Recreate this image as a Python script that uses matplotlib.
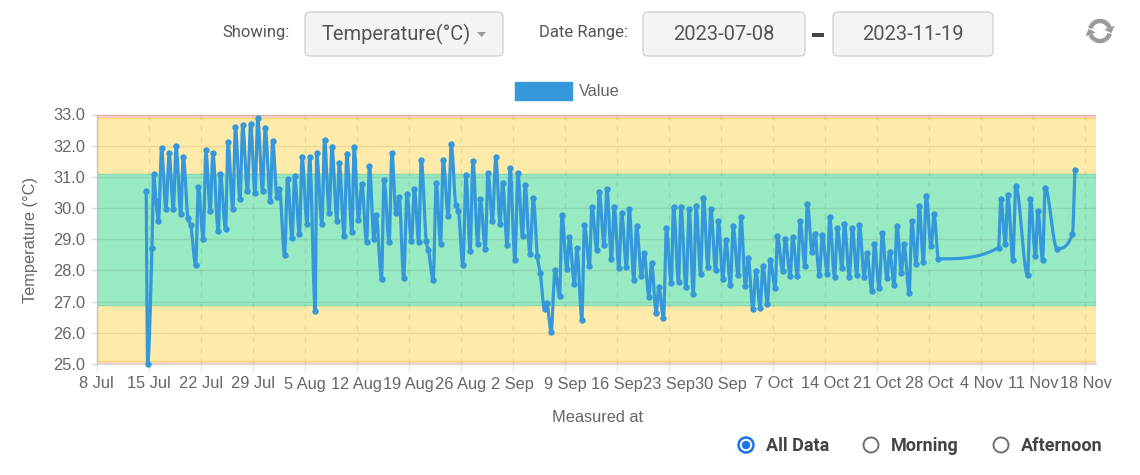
import numpy as np
import pandas as pd
import matplotlib
matplotlib.use("Agg")
import matplotlib.pyplot as plt
import matplotlib.dates as mdates
from matplotlib.ticker import FuncFormatter
from matplotlib.patches import FancyBboxPatch, Circle, Polygon, Rectangle

# ---------------- data ----------------
times = [
    "2023-07-14 16:30", "2023-07-14 21:00", "2023-07-15 11:00", "2023-07-15 16:30", "2023-07-15 23:30",
    "2023-07-16 08:00", "2023-07-16 18:00", "2023-07-17 08:00", "2023-07-17 18:30", "2023-07-18 08:00",
    "2023-07-18 17:00", "2023-07-19 08:00", "2023-07-19 16:00", "2023-07-20 07:00", "2023-07-20 16:00",
    "2023-07-21 08:00", "2023-07-21 17:00", "2023-07-22 08:30", "2023-07-22 17:00", "2023-07-23 07:00",
    "2023-07-23 15:30", "2023-07-24 09:00", "2023-07-24 16:00", "2023-07-25 08:30", "2023-07-25 16:30",
    "2023-07-26 08:00", "2023-07-26 16:30", "2023-07-27 07:00", "2023-07-27 16:00", "2023-07-28 07:00",
    "2023-07-28 17:30", "2023-07-29 07:30", "2023-07-29 16:30", "2023-07-30 08:00", "2023-07-30 16:30",
    "2023-07-31 09:00", "2023-07-31 16:30", "2023-08-01 07:00", "2023-08-01 14:30", "2023-08-02 07:00",
    "2023-08-02 16:30", "2023-08-03 07:30", "2023-08-03 15:30", "2023-08-04 07:00", "2023-08-04 15:30",
    "2023-08-05 07:30", "2023-08-05 16:00", "2023-08-06 10:00", "2023-08-06 14:30", "2023-08-07 07:30",
    "2023-08-07 16:00", "2023-08-08 07:00", "2023-08-08 16:00", "2023-08-09 08:00", "2023-08-09 15:30",
    "2023-08-10 07:30", "2023-08-10 16:00", "2023-08-11 08:30", "2023-08-11 15:30", "2023-08-12 05:30",
    "2023-08-12 16:30", "2023-08-13 07:30", "2023-08-13 17:00", "2023-08-14 07:30", "2023-08-14 14:30",
    "2023-08-15 08:00", "2023-08-15 16:00", "2023-08-16 08:30", "2023-08-16 17:30", "2023-08-17 06:30",
    "2023-08-17 17:00", "2023-08-18 07:30", "2023-08-18 18:00", "2023-08-19 08:30", "2023-08-19 18:00",
    "2023-08-20 08:00", "2023-08-20 16:00", "2023-08-21 08:00", "2023-08-21 15:30", "2023-08-22 06:30",
    "2023-08-22 16:30", "2023-08-23 06:30", "2023-08-23 15:00", "2023-08-24 07:00", "2023-08-24 17:00",
    "2023-08-25 07:30", "2023-08-25 16:00", "2023-08-26 06:30", "2023-08-26 16:30", "2023-08-27 06:00",
    "2023-08-27 15:00", "2023-08-28 06:30", "2023-08-28 15:00", "2023-08-29 07:00", "2023-08-29 15:30",
    "2023-08-30 06:00", "2023-08-30 17:00", "2023-08-31 06:30", "2023-08-31 15:00", "2023-09-01 05:30",
    "2023-09-01 15:00", "2023-09-02 06:30", "2023-09-02 16:00", "2023-09-03 07:00", "2023-09-03 15:30",
    "2023-09-04 07:00", "2023-09-04 17:30", "2023-09-05 07:00", "2023-09-05 16:30", "2023-09-06 06:00",
    "2023-09-06 13:30", "2023-09-07 03:30", "2023-09-07 16:00", "2023-09-08 06:30", "2023-09-08 14:30",
    "2023-09-09 06:00", "2023-09-09 14:30", "2023-09-10 06:30", "2023-09-10 14:30", "2023-09-11 06:30",
    "2023-09-11 15:00", "2023-09-12 07:00", "2023-09-12 15:00", "2023-09-13 07:00", "2023-09-13 14:30",
    "2023-09-14 06:30", "2023-09-14 15:30", "2023-09-15 06:00", "2023-09-15 15:00", "2023-09-16 06:00",
    "2023-09-16 15:00", "2023-09-17 06:30", "2023-09-17 15:30", "2023-09-18 06:30", "2023-09-18 15:00",
    "2023-09-19 07:00", "2023-09-19 15:30", "2023-09-20 07:00", "2023-09-20 15:30", "2023-09-21 06:30",
    "2023-09-21 15:00", "2023-09-22 06:00", "2023-09-22 15:30", "2023-09-23 07:00", "2023-09-23 14:30",
    "2023-09-24 06:30", "2023-09-24 14:30", "2023-09-25 06:30", "2023-09-25 17:00", "2023-09-26 06:00",
    "2023-09-26 15:30", "2023-09-27 05:30", "2023-09-27 15:00", "2023-09-28 05:30", "2023-09-28 15:00",
    "2023-09-29 06:00", "2023-09-29 15:30", "2023-09-30 05:30", "2023-09-30 15:30", "2023-10-01 06:00",
    "2023-10-01 15:00", "2023-10-02 07:00", "2023-10-02 16:00", "2023-10-03 06:30", "2023-10-03 15:30",
    "2023-10-04 06:30", "2023-10-04 16:30", "2023-10-05 06:00", "2023-10-05 15:00", "2023-10-06 05:30",
    "2023-10-06 14:30", "2023-10-07 06:30", "2023-10-07 14:00", "2023-10-08 06:30", "2023-10-08 15:00",
    "2023-10-09 07:00", "2023-10-09 15:00", "2023-10-10 06:30", "2023-10-10 15:00", "2023-10-11 06:30",
    "2023-10-11 14:30", "2023-10-12 06:00", "2023-10-12 14:30", "2023-10-13 05:00", "2023-10-13 15:00",
    "2023-10-14 07:00", "2023-10-14 14:30", "2023-10-15 06:00", "2023-10-15 15:30", "2023-10-16 06:00",
    "2023-10-16 14:00", "2023-10-17 06:00", "2023-10-17 15:30", "2023-10-18 06:00", "2023-10-18 14:30",
    "2023-10-19 06:00", "2023-10-19 14:30", "2023-10-20 06:30", "2023-10-20 15:00", "2023-10-21 06:00",
    "2023-10-21 16:30", "2023-10-22 07:00", "2023-10-22 16:00", "2023-10-23 06:30", "2023-10-23 15:30",
    "2023-10-24 06:00", "2023-10-24 14:00", "2023-10-25 07:00", "2023-10-25 15:30", "2023-10-26 05:30",
    "2023-10-26 15:30", "2023-10-27 05:00", "2023-10-27 14:00", "2023-10-28 05:30", "2023-10-28 15:30",
    "2023-10-29 05:30", "2023-11-06 07:30", "2023-11-06 15:00", "2023-11-07 05:30", "2023-11-07 13:30",
    "2023-11-08 05:30", "2023-11-08 15:00", "2023-11-10 05:00", "2023-11-10 14:30", "2023-11-11 06:30",
    "2023-11-11 14:30", "2023-11-12 05:30", "2023-11-12 14:00", "2023-11-14 04:00", "2023-11-16 06:00",
    "2023-11-16 14:00",
]

values = [
    30.56, 25.00, 28.71, 31.09, 30.24, 29.60, 31.91, 29.97, 31.75, 29.97,
    31.98, 29.81, 31.65, 29.68, 29.46, 28.18, 30.67, 29.00, 31.85, 29.92,
    31.77, 29.25, 31.08, 29.32, 32.12, 29.97, 32.60, 30.28, 32.66, 30.55,
    32.71, 30.48, 32.88, 30.56, 32.57, 30.24, 32.16, 30.34, 30.61, 28.50,
    30.93, 29.03, 31.02, 29.17, 31.63, 29.50, 31.63, 26.70, 31.75, 29.49,
    32.18, 29.84, 31.95, 29.60, 31.45, 29.11, 31.72, 29.22, 31.96, 29.63,
    30.78, 28.91, 31.36, 29.02, 29.79, 27.72, 30.91, 28.90, 31.78, 29.84,
    30.34, 27.76, 30.45, 28.95, 30.62, 28.90, 31.55, 28.95, 28.66, 27.70,
    30.80, 28.86, 31.55, 29.75, 32.04, 30.11, 29.92, 28.19, 31.05, 28.63,
    31.52, 28.86, 30.28, 28.69, 31.12, 29.60, 31.63, 29.50, 30.81, 28.80,
    31.29, 28.34, 31.14, 29.09, 30.75, 28.53, 30.32, 28.45, 27.91, 26.76,
    26.95, 26.04, 28.01, 27.18, 29.78, 28.04, 29.07, 27.58, 28.71, 26.42,
    29.47, 28.14, 30.05, 28.66, 30.53, 28.81, 30.61, 28.37, 30.03, 28.08,
    29.85, 28.10, 29.96, 27.70, 29.44, 27.83, 28.57, 27.14, 28.24, 26.65,
    27.48, 26.47, 29.35, 27.59, 30.05, 27.63, 30.05, 27.46, 29.97, 27.25,
    30.07, 27.90, 30.32, 28.12, 29.97, 28.02, 29.57, 27.74, 28.98, 27.52,
    29.41, 27.84, 29.72, 27.49, 28.40, 26.75, 27.98, 26.81, 28.15, 26.93,
    28.33, 27.45, 29.09, 27.98, 29.02, 27.83, 29.08, 27.82, 29.58, 28.15,
    30.13, 28.58, 29.18, 27.86, 29.13, 27.89, 29.70, 27.80, 29.37, 28.07,
    29.50, 27.80, 29.37, 27.86, 29.47, 27.80, 28.55, 27.35, 28.85, 27.43,
    29.20, 27.75, 28.59, 27.53, 29.44, 27.91, 28.85, 27.27, 29.57, 28.20,
    30.07, 28.27, 30.40, 28.77, 29.80, 28.37, 28.73, 30.29, 28.86, 30.43,
    28.34, 30.72, 27.84, 30.28, 28.47, 29.92, 28.32, 30.65, 28.70, 29.17,
    31.23,
]

y_ticks = [25.0, 26.0, 27.0, 28.0, 29.0, 30.0, 31.0, 32.0, 33.0]
red_bands = [(32.9, 33.0), (25.0, 25.1)]
yellow_bands = [(31.1, 32.9), (25.1, 26.9)]
green_band = (26.9, 31.1)
range_start = "2023-07-08"
range_end = "2023-11-19"
series_label = "Value"
radio_labels = ["All Data", "Morning", "Afternoon"]


def monotone_path(x, y, n=14):
    """Chart.js-style monotone cubic rendering of the line through the points."""
    x = np.asarray(x, float)
    y = np.asarray(y, float)
    dx = np.diff(x)
    d = np.diff(y) / dx
    m = np.zeros_like(y)
    m[0], m[-1] = d[0], d[-1]
    for i in range(1, len(y) - 1):
        a, b = d[i - 1], d[i]
        m[i] = 0.0 if np.sign(a) != np.sign(b) else (a + b) / 2
    for i in range(len(d)):
        if abs(d[i]) < 1e-12:
            m[i] = m[i + 1] = 0.0
            continue
        al, be = m[i] / d[i], m[i + 1] / d[i]
        s = al * al + be * be
        if s <= 9:
            continue
        tau = 3 / np.sqrt(s)
        m[i] = al * tau * d[i]
        m[i + 1] = be * tau * d[i]
    t = np.linspace(0, 1, n, endpoint=False)
    h00 = 2 * t**3 - 3 * t**2 + 1
    h10 = t**3 - 2 * t**2 + t
    h01 = -2 * t**3 + 3 * t**2
    h11 = t**3 - t**2
    X, Y = [], []
    for i in range(len(d)):
        X.append(x[i] + t * dx[i])
        Y.append(h00 * y[i] + h10 * dx[i] * m[i] + h01 * y[i + 1] + h11 * dx[i] * m[i + 1])
    X.append([x[-1]])
    Y.append([y[-1]])
    return np.concatenate(X), np.concatenate(Y)


# ---------------- figure ----------------
W, H = 1140, 475
fig = plt.figure(figsize=(W / 100, H / 100), dpi=100)
CHART_FONT = ["Liberation Sans", "DejaVu Sans"]
UI_FONT = ["Roboto", "DejaVu Sans"]
TXT = "#666666"
LINE = "#3498db"
FS = 11.8

L, R, T, B = 96.5, 1096, 114.5, 364
ax = fig.add_axes([L / W, 1 - B / H, (R - L) / W, (B - T) / H])

xs = mdates.date2num(pd.to_datetime(times))
ys = np.array(values)

x0 = mdates.date2num(pd.Timestamp(range_start))
x1 = mdates.date2num(pd.Timestamp(range_end) + pd.Timedelta(hours=10))
ax.set_xlim(x0, x1)
ax.set_ylim(y_ticks[0], y_ticks[-1])

# threshold bands
for lo, hi in red_bands:
    ax.axhspan(lo, hi, facecolor="#FFCFCF", edgecolor="#F8BDBD", lw=0.8, zorder=0.2)
for lo, hi in yellow_bands:
    ax.axhspan(lo, hi, facecolor="#FEEBA9", edgecolor="#F6DA72", lw=1.0, zorder=0.2)
ax.axhspan(green_band[0], green_band[1], facecolor="#98EAC3", edgecolor="#84DCB2",
           lw=1.0, zorder=0.25)

# grid
ax.set_axisbelow(True)
ax.yaxis.grid(True, color="black", alpha=0.08, lw=1.0)
ax.xaxis.grid(True, color="black", alpha=0.08, lw=1.0, ls=(0, (4, 4)))

ax.set_yticks(y_ticks)
ax.yaxis.set_major_formatter(FuncFormatter(lambda v, p: f"{v:.1f}"))
weeks = pd.date_range(range_start, pd.Timestamp(range_end) - pd.Timedelta(days=1), freq="7D")
ax.set_xticks(mdates.date2num(weeks))
ax.set_xticklabels([f"{d.day} {d.strftime('%b')}" for d in weeks])
ax.tick_params(axis="x", length=6, width=1.0, color="#e6e6e6", labelsize=FS,
               labelcolor=TXT, pad=3)
ax.tick_params(axis="y", length=4, width=1.0, color="#dcdcdc", labelsize=FS,
               labelcolor=TXT, pad=4)
for lab in ax.get_xticklabels() + ax.get_yticklabels():
    lab.set_family(CHART_FONT)
for s in ("top", "right"):
    ax.spines[s].set_visible(False)
ax.spines["left"].set_color("#c4c4c4")
ax.spines["bottom"].set_color("#dadada")
ax.spines["left"].set_linewidth(1.0)
ax.spines["bottom"].set_linewidth(1.0)

# series
cx, cy = monotone_path(xs, ys)
ax.plot(cx, cy, color=LINE, lw=2.3, solid_joinstyle="round", solid_capstyle="round",
        zorder=3, clip_on=False)
ax.plot(xs, ys, "o", ms=4.6, color=LINE, mew=0, zorder=4, clip_on=False)

# axis titles
fig.text(30 / W, 1 - 240 / H, "Temperature (°C)", rotation=90, ha="center", va="center",
         fontsize=FS, color=TXT, family=CHART_FONT)
fig.text(597 / W, 1 - 418 / H, "Measured at", ha="center", va="center",
         fontsize=FS, color=TXT, family=CHART_FONT)

# ---------------- overlay (pixel coordinates) ----------------
ov = fig.add_axes([0, 0, 1, 1], zorder=10)
ov.set_xlim(0, W)
ov.set_ylim(H, 0)
ov.axis("off")

# legend
ov.add_patch(Rectangle((515, 82), 57, 18, facecolor=LINE, edgecolor=LINE, lw=1))
ov.text(579, 91, series_label, ha="left", va="center", fontsize=FS, color=TXT, family=CHART_FONT)

# top controls
def box(x, y, w, h):
    ov.add_patch(FancyBboxPatch((x, y), w, h, boxstyle="round,pad=0,rounding_size=5",
                                facecolor="#f4f4f4", edgecolor="#d2d2d2", lw=1.0))

ov.text(290, 32, "Showing:", ha="right", va="center", fontsize=12, color="#555555", family=UI_FONT)
box(305, 12, 198, 44)
ov.text(322, 34, "Temperature(°C)", ha="left", va="center", fontsize=14.5, color="#555555",
        family=UI_FONT)
ov.add_patch(Polygon([(477, 32), (486, 32), (481.5, 37)], closed=True, facecolor="#999999",
                     edgecolor="none"))
ov.text(628, 32, "Date Range:", ha="right", va="center", fontsize=12, color="#555555",
        family=UI_FONT)
box(643, 12, 162, 44)
ov.text(724, 34, range_start, ha="center", va="center", fontsize=14.5, color="#555555",
        family=UI_FONT)
ov.add_patch(Rectangle((812, 33), 12, 4, facecolor="#444444", edgecolor="none"))
box(833, 12, 160, 44)
ov.text(913, 34, range_end, ha="center", va="center", fontsize=14.5, color="#555555",
        family=UI_FONT)

# refresh icon
def arc_arrow(cx0, cy0, r, a1, a2, head_at_end=True):
    th = np.radians(np.linspace(a1, a2, 40))
    px = cx0 + r * np.cos(th)
    py = cy0 - r * np.sin(th)
    ov.plot(px, py, color="#9a9a9a", lw=3.2, solid_capstyle="butt")
    a = np.radians(a2 if head_at_end else a1)
    sgn = 1 if head_at_end else -1
    ex, ey = cx0 + r * np.cos(a), cy0 - r * np.sin(a)
    rx, ry = np.cos(a), -np.sin(a)
    tx, ty = -np.sin(a) * sgn, -np.cos(a) * sgn
    pts = [(ex + 5.5 * rx, ey + 5.5 * ry), (ex - 5.5 * rx, ey - 5.5 * ry),
           (ex + 6 * tx, ey + 6 * ty)]
    ov.add_patch(Polygon(pts, closed=True, facecolor="#9a9a9a", edgecolor="none"))

arc_arrow(1100, 31, 10, 20, 165, head_at_end=False)
arc_arrow(1100, 31, 10, 200, 345, head_at_end=False)

# radio buttons
radio_x = [746, 871, 1001]
for i, (rx_, lab) in enumerate(zip(radio_x, radio_labels)):
    if i == 0:
        ov.add_patch(Circle((rx_, 445), 7.5, facecolor="white", edgecolor="#1a73e8", lw=1.8))
        ov.add_patch(Circle((rx_, 445), 4.2, facecolor="#1a73e8", edgecolor="none"))
    else:
        ov.add_patch(Circle((rx_, 445), 7.5, facecolor="white", edgecolor="#6f6f6f", lw=1.4))
    ov.text(rx_ + 20, 446, lab, ha="left", va="center", fontsize=13, fontweight="bold",
            color="#444444", family=UI_FONT)

fig.savefig("out.png", dpi=100)
